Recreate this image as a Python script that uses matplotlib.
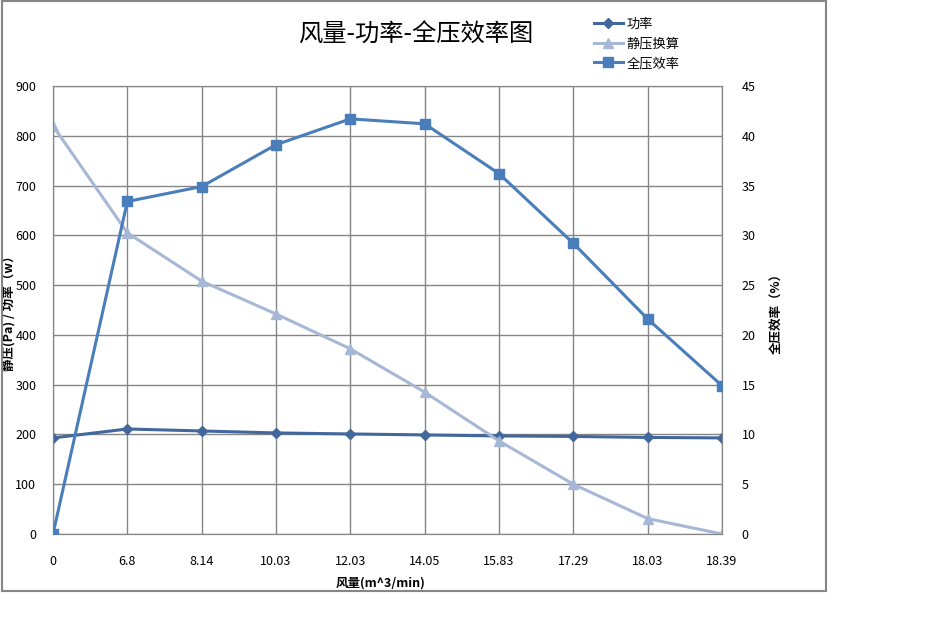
import matplotlib.pyplot as plt
from matplotlib.patches import Rectangle
from matplotlib.lines import Line2D

plt.rcParams['font.family'] = ['Noto Sans CJK SC', 'DejaVu Sans']

# 数据
categories = ['0', '6.8', '8.14', '10.03', '12.03', '14.05', '15.83', '17.29', '18.03', '18.39']
power = [193, 211, 207, 203, 201, 199, 197, 196, 194, 193]
static_p = [820, 605, 508, 442, 372, 285, 187, 100, 31, 0]
efficiency = [0, 33.4, 34.9, 39.1, 41.7, 41.2, 36.2, 29.2, 21.6, 14.9]

c_power = '#41679c'
c_static = '#a6b8d6'
c_eff = '#4a7ebb'
grid_c = '#868686'

fig = plt.figure(figsize=(9.35, 6.37), dpi=100)
# chart frame
fig.patches.append(Rectangle((2 / 935, 1 - 591 / 637), 824 / 935, 590 / 637,
                             transform=fig.transFigure, fill=False,
                             edgecolor='#868686', linewidth=1.5))

ax = fig.add_axes([53 / 935, 1 - 534 / 637, 669 / 935, 448 / 637])
x = list(range(len(categories)))

ax.plot(x, power, color=c_power, marker='D', markersize=5.5, linewidth=2.2, zorder=3)
ax.plot(x, static_p, color=c_static, marker='^', markersize=7.5, linewidth=2.2, zorder=3)
ax.set_xlim(0, len(categories) - 1)
ax.set_ylim(0, 900)
ax.set_yticks(range(0, 901, 100))
ax.set_xticks(x)
ax.set_xticklabels(categories)
ax.grid(True, color=grid_c, linewidth=1)
ax.set_axisbelow(True)
for s in ax.spines.values():
    s.set_color(grid_c)
ax.tick_params(length=0, labelsize=9)
ax.tick_params(axis='y', pad=12)
ax.tick_params(axis='x', pad=15)
ax.set_ylabel('静压(Pa) / 功率（w）', fontsize=9, fontweight='bold')
ax.yaxis.set_label_coords(-0.056, 0.5)
ax.set_xlabel('风量(m^3/min)', fontsize=9, fontweight='bold')
ax.xaxis.set_label_coords(0.49, -0.096)

ax2 = ax.twinx()
ax2.plot(x, efficiency, color=c_eff, marker='s', markersize=7, linewidth=2.2, zorder=3)
ax2.set_ylim(0, 45)
ax2.set_yticks(range(0, 46, 5))
ax2.tick_params(length=0, labelsize=9, pad=14)
for s in ax2.spines.values():
    s.set_color(grid_c)
ax2.set_ylabel('全压效率（%）', fontsize=9, fontweight='bold')
ax2.yaxis.set_label_coords(1.072, 0.5)

fig.text(416 / 935, 1 - 35 / 637, '风量-功率-全压效率图', fontsize=17.5, ha='center', va='center')

handles = [
    Line2D([], [], color=c_power, marker='D', markersize=5, linewidth=2.2),
    Line2D([], [], color=c_static, marker='^', markersize=7, linewidth=2.2),
    Line2D([], [], color=c_eff, marker='s', markersize=6.5, linewidth=2.2),
]
fig.legend(handles, ['功率', '静压换算', '全压效率'], loc='upper left',
           bbox_to_anchor=(582 / 935, 1 - 6 / 637), frameon=False, fontsize=9.5,
           handlelength=2.2, handletextpad=0.3, labelspacing=0.5)

fig.savefig('out.png', dpi=100)
